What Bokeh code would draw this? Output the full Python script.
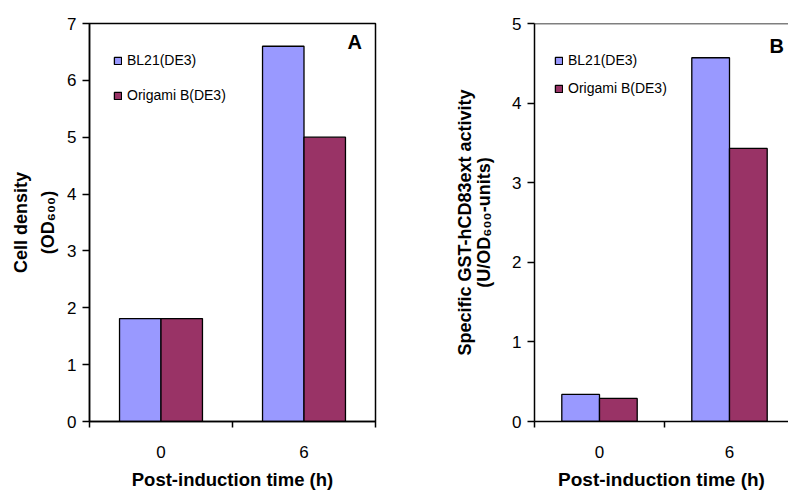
from bokeh.plotting import figure
from bokeh.models import (Range1d, FixedTicker, SingleIntervalTicker, Legend,
                          LegendItem, Label, Span, ColumnDataSource)
from bokeh.layouts import row
from bokeh.embed import file_html
from bokeh.resources import INLINE

# ---- data ----
times = ["0", "6"]
strains = ["BL21(DE3)", "Origami B(DE3)"]
cell_density_bl21 = [1.81, 6.6]
cell_density_origami = [1.81, 5.0]
activity_bl21 = [0.34, 4.57]
activity_origami = [0.29, 3.43]
colors = ["#9999FF", "#993366"]

FONT = "Liberation Sans"


def make_panel(vals_a, vals_b, ymax, ylabel, letter, width, height, bl, br,
               x_end, legend_loc, legend_spacing, letter_pos, outline,
               ylab_lh, ylab_standoff, xtitle_size):
    p = figure(width=width, height=height, output_backend="svg",
               toolbar_location=None, x_range=Range1d(0, x_end),
               y_range=Range1d(0, ymax),
               min_border_left=bl, min_border_right=br,
               min_border_top=23, min_border_bottom=70)
    p.background_fill_color = "white"
    p.border_fill_color = "white"
    p.xgrid.visible = False
    p.ygrid.visible = False
    if outline:
        p.outline_line_color = "black"
        p.outline_line_width = 1.5
    else:
        p.outline_line_color = None
        p.add_layout(Span(location=ymax, dimension="width",
                          line_color="black", line_width=1.5))

    n = len(times)
    centers = [i + 0.5 for i in range(n)]
    bw = 0.29
    src_a = ColumnDataSource(dict(x=[c - bw / 2 for c in centers], top=vals_a))
    src_b = ColumnDataSource(dict(x=[c + bw / 2 for c in centers], top=vals_b))
    r1 = p.vbar(x="x", top="top", width=bw, source=src_a,
                fill_color=colors[0], line_color="black", line_width=1.3)
    r2 = p.vbar(x="x", top="top", width=bw, source=src_b,
                fill_color=colors[1], line_color="black", line_width=1.3)

    # x axis: labels at category centres, ticks at category boundaries
    xa = p.xaxis[0]
    xa.ticker = FixedTicker(ticks=centers, minor_ticks=list(range(n + 1)))
    xa.major_label_overrides = {c: t for c, t in zip(centers, times)}
    xa.major_tick_out = 0
    xa.major_tick_in = 0
    xa.minor_tick_out = 6
    xa.minor_tick_in = 0
    xa.minor_tick_line_color = "black"
    xa.minor_tick_line_width = 1.5
    xa.major_label_standoff = 18
    xa.major_label_text_font = FONT
    xa.major_label_text_font_size = "17px"
    xa.major_label_text_color = "black"
    xa.axis_line_color = "black"
    xa.axis_line_width = 1.5
    xa.axis_label = "Post-induction time (h)"
    xa.axis_label_text_font = FONT
    xa.axis_label_text_font_style = "bold"
    xa.axis_label_text_font_size = xtitle_size
    xa.axis_label_text_color = "black"
    xa.axis_label_standoff = 8

    ya = p.yaxis[0]
    ya.ticker = SingleIntervalTicker(interval=1, num_minor_ticks=0)
    ya.major_tick_out = 7
    ya.major_tick_in = 0
    ya.major_tick_line_width = 1.5
    ya.minor_tick_line_color = None
    ya.major_label_standoff = 6
    ya.major_label_text_font = FONT
    ya.major_label_text_font_size = "17px"
    ya.major_label_text_color = "black"
    ya.axis_line_color = "black"
    ya.axis_line_width = 1.5
    ya.axis_label = ylabel
    ya.axis_label_text_font = FONT
    ya.axis_label_text_font_style = "bold"
    ya.axis_label_text_font_size = "18px"
    ya.axis_label_text_color = "black"
    ya.axis_label_text_line_height = ylab_lh
    ya.axis_label_standoff = ylab_standoff

    legend = Legend(items=[LegendItem(label=strains[0], renderers=[r1]),
                           LegendItem(label=strains[1], renderers=[r2])],
                    location=legend_loc, orientation="vertical",
                    glyph_width=9, glyph_height=9, label_height=9,
                    label_standoff=5, spacing=legend_spacing,
                    padding=0, margin=0, border_line_color=None,
                    background_fill_alpha=0,
                    label_text_font=FONT, label_text_font_size="14px",
                    label_text_color="black")
    p.add_layout(legend)

    p.add_layout(Label(x=letter_pos[0], y=letter_pos[1], x_units="screen",
                       y_units="screen", text=letter, text_font=FONT,
                       text_font_style="bold", text_font_size="20px",
                       text_color="black", text_baseline="alphabetic"))
    return p


pA = make_panel(cell_density_bl21, cell_density_origami, 7,
                "Cell density\n(OD\u2086\u2080\u2080)", "A",
                width=400, height=492, bl=89, br=25, x_end=2,
                legend_loc=(24, 318), legend_spacing=19,
                letter_pos=(258, 380), outline=True,
                ylab_lh=1.34, ylab_standoff=6, xtitle_size="18.5px")

pB = make_panel(activity_bl21, activity_origami, 5,
                "Specific GST-hCD83ext activity\n(U/OD\u2086\u2080\u2080-units)", "B",
                width=388, height=492, bl=134, br=0, x_end=254 / 130,
                legend_loc=(20, 325), legend_spacing=12,
                letter_pos=(235, 376), outline=False,
                ylab_lh=0.97, ylab_standoff=15, xtitle_size="19px")

layout = row(pA, pB, spacing=0)
open("out.html", "w").write(file_html(layout, INLINE))
